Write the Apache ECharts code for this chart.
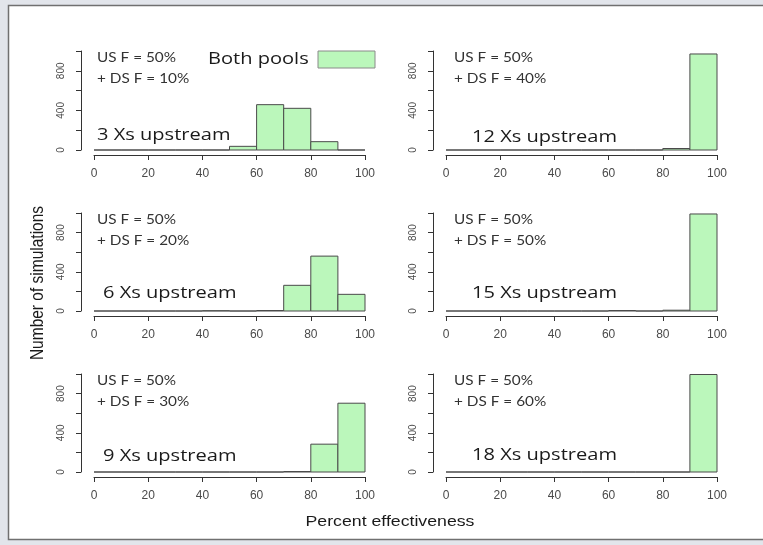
<!DOCTYPE html>
<html>
<head>
<meta charset="utf-8">
<script src="https://cdn.jsdelivr.net/npm/echarts@6/dist/echarts.min.js"></script>
<style>
  html, body { margin: 0; padding: 0; background: #e2e5eb; }
  #chart { width: 763px; height: 545px; }
</style>
</head>
<body>
<div id="chart"></div>
<script>
// histogram bins (percent effectiveness), 10 wide
var binEdges = [0, 10, 20, 30, 40, 50, 60, 70, 80, 90, 100];

// counts per bin, one array per panel
var counts3xs  = [0, 0, 0, 0, 0, 37, 458, 421, 84, 0];
var counts12xs = [0, 0, 0, 0, 0, 0, 0, 0, 15, 970];
var counts6xs  = [0, 0, 0, 0, 3, 0, 5, 262, 560, 170];
var counts15xs = [0, 0, 0, 0, 0, 0, 5, 0, 8, 990];
var counts9xs  = [0, 0, 0, 0, 0, 0, 0, 5, 284, 702];
var counts18xs = [0, 0, 0, 0, 0, 0, 0, 0, 0, 995];

var panelCounts = [counts3xs, counts12xs, counts6xs, counts15xs, counts9xs, counts18xs];
var panelNames = ['3 Xs upstream', '12 Xs upstream', '6 Xs upstream', '15 Xs upstream', '9 Xs upstream', '18 Xs upstream'];
var usLabels = ['US F = 50%', 'US F = 50%', 'US F = 50%', 'US F = 50%', 'US F = 50%', 'US F = 50%'];
var dsLabels = ['+ DS F = 10%', '+ DS F = 40%', '+ DS F = 20%', '+ DS F = 50%', '+ DS F = 30%', '+ DS F = 60%'];

// layout (pixels)
var colLeft = [94, 446];
var rowTop = [51, 213, 374];
var rowH = [99, 98, 98];
var plotW = 271;
var nameDx = [3, 26, 9, 26, 9, 26];
var nameDy = [-15, -13, -18, -18, -16, -17];
var noteDx = [3, 8];
var STRETCH = 1.18; // the slide is a bit wider than tall, text looks stretched

var GREEN = '#bbf7bb';
var EDGE = '#4a4a4a';

var chart = echarts.init(document.getElementById('chart'), null, { renderer: 'canvas' });

var grids = [], xAxes = [], yAxes = [], series = [];
var graphics = [
    // window frame
    { type: 'rect', z: -10, shape: { x: 8.5, y: 5.5, width: 800, height: 534 },
      style: { fill: '#ffffff', stroke: '#707070', lineWidth: 1.5 } }
];

function txt(x, y, text, font, opts) {
    opts = opts || {};
    return {
        type: 'text', x: x, y: y, scaleX: opts.scaleX || 1, scaleY: opts.scaleY || 1,
        rotation: opts.rotation || 0,
        style: {
            text: text, font: font, fill: opts.fill || '#1a1a1a',
            align: opts.align || 'left', textAlign: opts.align || 'left',
            verticalAlign: 'middle', textVerticalAlign: 'middle'
        }
    };
}

panelCounts.forEach(function(counts, i) {
    var col = i % 2, row = Math.floor(i / 2);
    var left = colLeft[col], top = rowTop[row], h = rowH[row];
    grids.push({ left: left, top: top, width: plotW, height: h });

    xAxes.push({
        type: 'value', gridIndex: i, min: 0, max: 100, interval: 20, offset: 5,
        splitLine: { show: false },
        axisLine: { show: true, onZero: false, lineStyle: { color: '#333', width: 1 } },
        axisTick: { show: true, length: 5, lineStyle: { color: '#333' } },
        axisLabel: { fontFamily: 'Liberation Sans', fontSize: 12, color: '#4a4a4a', margin: 13 }
    });
    yAxes.push({
        type: 'value', gridIndex: i, min: 0, max: 1000, interval: 200, offset: 13,
        splitLine: { show: false },
        axisLine: { show: true, onZero: false, lineStyle: { color: '#333', width: 1 } },
        axisTick: { show: true, length: 5, lineStyle: { color: '#333' } },
        axisLabel: {
            rotate: 90, fontFamily: 'Liberation Sans', fontSize: 10, color: '#4a4a4a', margin: 15,
            formatter: function(v) { return (v % 400 === 0 && v < 1000) ? String(v) : ''; }
        }
    });

    var data = counts.map(function(c, k) { return [binEdges[k], binEdges[k + 1], c]; });
    series.push({
        type: 'custom', xAxisIndex: i, yAxisIndex: i, data: data, silent: true,
        renderItem: function(params, api) {
            var p0 = api.coord([api.value(0), api.value(2)]);
            var p1 = api.coord([api.value(1), 0]);
            return {
                type: 'rect',
                shape: { x: p0[0], y: p0[1], width: p1[0] - p0[0], height: p1[1] - p0[1] },
                style: { fill: GREEN, stroke: EDGE, lineWidth: 1 }
            };
        }
    });

    // annotations
    graphics.push(txt(left + noteDx[col], top + 7, usLabels[i], '13px Lato', { fill: '#333', scaleX: STRETCH }));
    graphics.push(txt(left + noteDx[col], top + 28, dsLabels[i], '13px Lato', { fill: '#333', scaleX: STRETCH }));
    graphics.push(txt(left + nameDx[i], top + h + nameDy[i], panelNames[i], '17px "Open Sans"', { scaleX: STRETCH }));
});

// legend
graphics.push(txt(208, 59, 'Both pools', '17px "Open Sans"', { scaleX: STRETCH }));
graphics.push({ type: 'rect', shape: { x: 318, y: 51, width: 57, height: 17 },
    style: { fill: GREEN, stroke: '#8a8a8a', lineWidth: 1 } });

// axis titles
graphics.push(txt(38, 283, 'Number of simulations', '15.5px "Liberation Sans"',
    { align: 'center', rotation: Math.PI / 2, scaleY: STRETCH }));
graphics.push(txt(390, 522, 'Percent effectiveness', '15px "Liberation Sans"',
    { align: 'center', scaleX: STRETCH }));

chart.setOption({
    animation: false,
    grid: grids,
    xAxis: xAxes,
    yAxis: yAxes,
    series: series,
    graphic: graphics
});
</script>
</body>
</html>
